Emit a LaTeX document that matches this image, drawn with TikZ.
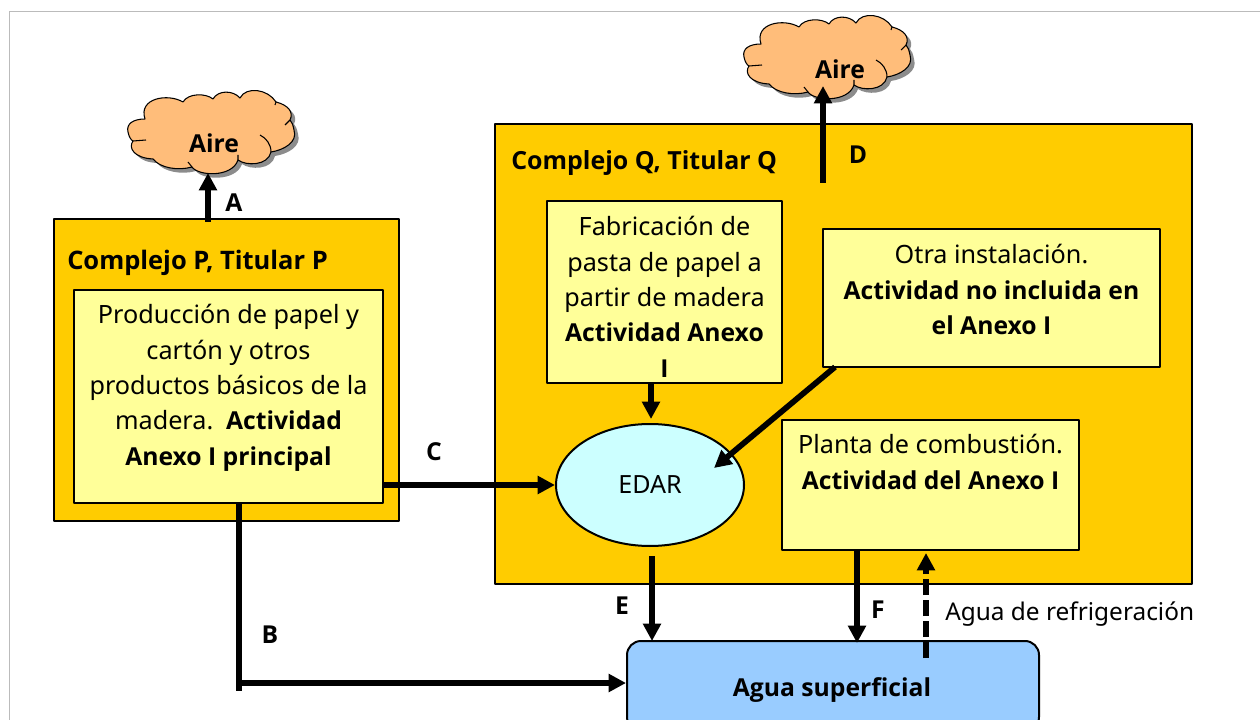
\documentclass[tikz,border=0pt]{standalone}
\usepackage{fontspec}
\setmainfont{Noto Sans}[BoldFont={Open Sans Bold},BoldFeatures={Scale=0.98}]
\usetikzlibrary{arrows.meta,positioning,shapes.geometric}
\definecolor{amber}{HTML}{FFCC00}
\definecolor{paleyellow}{HTML}{FFFF99}
\definecolor{paleblue}{HTML}{99CCFF}
\definecolor{palecyan}{HTML}{CCFFFF}
\definecolor{cloudfill}{HTML}{FFBD7A}
\definecolor{framegray}{HTML}{BBBBBB}
\tikzset{
  complejo/.style={draw=black,line width=1.5pt,fill=amber,inner sep=0pt},
  actividad/.style={draw=black,line width=1.1pt,fill=paleyellow,inner sep=0pt},
  texto/.style={align=center,inner sep=0pt,font=\fontsize{18.9}{26.6}\selectfont,anchor=north},
  etiqueta/.style={font=\fontsize{18.9}{22}\selectfont\bfseries,inner sep=0pt},
  flujo/.style={-{Triangle[width=13pt,length=13pt]},line width=4.3pt,draw=black}
}
% outline of one cloud, traced around its top left corner
\newcommand{\nubepath}{
  (17,27) .. controls (5,27) and (-2,32) .. (0,40)
  .. controls (1,45) and (3,48) .. (5,49)
  .. controls (0,56) and (6,66) .. (25,67)
  .. controls (32,76) and (50,79) .. (64,75)
  .. controls (70,84) and (104,86) .. (110,68)
  .. controls (118,74) and (140,74) .. (143,60)
  .. controls (156,58) and (170,50) .. (166,38)
  .. controls (165,33) and (164,30) .. (162,28)
  .. controls (166,20) and (160,13) .. (148,10)
  .. controls (140,-3) and (118,-6) .. (112,6)
  .. controls (105,-2) and (90,-2) .. (85,7)
  .. controls (78,1) and (60,1) .. (55,10)
  .. controls (40,1) and (10,6) .. (17,27) -- cycle}
\newcommand{\drawnube}[2]{
  \fill[black!45,shift={(#1+4,#2+4)}] \nubepath;
  \draw[fill=cloudfill,line width=0.8pt,shift={(#1,#2)}] \nubepath;
  \draw[line width=0.8pt,shift={(#1,#2)}] (5,49) -- (18,48) (143,60) .. controls (143,52) and (138,46) .. (132,43) (162,28) -- (157,33) (148,10) -- (147,13) (64,75) -- (60,70) (110,68) -- (110,63);
}
\begin{document}
\begin{tikzpicture}[line cap=butt,line join=round,x=0.75pt,y=-0.75pt]
\useasboundingbox (0,0) rectangle (1260,720);
\clip (0,0) rectangle (1260,720);

\draw[framegray,line width=0.9pt] (9.5,720) -- (9.5,11.5) -- (1260,11.5);

\drawnube{128}{92}
\drawnube{744}{17}

% complejos
\node[complejo,minimum width=345*0.75pt,minimum height=302*0.75pt] (complejoP) at (226.5,370) {};
\node[complejo,minimum width=697*0.75pt,minimum height=460*0.75pt] (complejoQ) at (843.5,354) {};
\node[etiqueta,font=\fontsize{19.5}{22}\selectfont\bfseries,anchor=west] (tituloP) at (67,263) {Complejo P, Titular P};
\node[etiqueta,font=\fontsize{19.1}{22}\selectfont\bfseries,anchor=west] (tituloQ) at (511,163) {Complejo Q, Titular Q};

% actividades
\node[actividad,minimum width=309*0.75pt,minimum height=213*0.75pt] (produccion) at (228.5,396.5) {};
\node[texto] (produccionT) at (228.5,304) {Producción de papel y\\cartón y otros\\productos básicos de la\\madera.\, \textbf{Actividad}\\\textbf{Anexo I principal}};
\node[actividad,minimum width=235*0.75pt,minimum height=182*0.75pt] (fabricacion) at (664.5,292) {};
\node[texto] (fabricacionT) at (664.5,216) {Fabricación de\\pasta de papel a\\partir de madera\\\textbf{Actividad Anexo}\\\textbf{I}};
\node[actividad,minimum width=337*0.75pt,minimum height=138*0.75pt] (otra) at (991.5,298) {};
\node[texto] (otraT) at (991.5,244) {Otra instalación.\\\textbf{Actividad no incluida en}\\\textbf{el Anexo I}};
\node[actividad,minimum width=297*0.75pt,minimum height=130*0.75pt] (planta) at (930.5,485) {};
\node[texto] (plantaT) at (930.5,434) {Planta de combustión.\\\textbf{Actividad del Anexo I}};
\node[draw=black,line width=1.5pt,fill=palecyan,ellipse,minimum width=188*0.75pt,minimum height=122*0.75pt,inner sep=0pt,font=\fontsize{18.8}{22}\selectfont] (edar) at (650,485) {EDAR};
\node[draw=black,line width=1.5pt,fill=paleblue,rounded corners=14*0.75pt,minimum width=412*0.75pt,minimum height=90*0.75pt,inner sep=0pt] (agua) at (833,686) {};
\node[etiqueta] (aguaT) at (832,690) {Agua superficial};

\node[etiqueta] (aireA) at (214,143) {Aire};
\node[etiqueta] (aireD) at (840,69) {Aire};

% letras
\node[etiqueta] (letraA) at (234,203) {A};
\node[etiqueta] (letraB) at (270,635) {B};
\node[etiqueta] (letraC) at (434,452) {C};
\node[etiqueta] (letraD) at (858,155) {D};
\node[etiqueta] (letraE) at (622,606) {E};
\node[etiqueta] (letraF) at (878,610) {F};
\node[font=\fontsize{18.3}{22}\selectfont,inner sep=0pt,anchor=west] (refrigeracion) at (945,614) {Agua de refrigeración};

% puntos libres
\coordinate (inicioA) at (208,222);
\coordinate (finA) at (208,173);
\coordinate (inicioD) at (823,183);
\coordinate (finD) at (823,86);
\coordinate (inicioB) at (239,503);
\coordinate (codoB) at (239,691);
\coordinate (salidaB) at (239,683);
\coordinate (inicioFab) at (651,384);
\coordinate (finFab) at (651,419);
\coordinate (inicioOtra) at (835,367);
\coordinate (finOtra) at (714,468);
\coordinate (inicioE) at (652,556);
\coordinate (finE) at (652,641);
\coordinate (inicioF) at (857,550);
\coordinate (finF) at (857,643);
\coordinate (inicioR) at (926,658);
\coordinate (finR) at (926,553);

\draw[flujo] (inicioA) -- (finA);
\draw[flujo] (inicioD) -- (finD);
\draw[flujo,-] (inicioB) -- (codoB);
\draw[flujo] (salidaB) -- (agua.west |- salidaB);
\draw[flujo] (produccion.east |- edar) -- (edar.west);
\draw[flujo] (inicioFab) -- (finFab);
\draw[flujo] (inicioOtra) -- (finOtra);
\draw[flujo] (inicioE) -- (finE);
\draw[flujo] (inicioF) -- (finF);
\draw[flujo,dash pattern=on 12pt off 3.75pt] (inicioR) -- (finR);
\end{tikzpicture}
\end{document}
